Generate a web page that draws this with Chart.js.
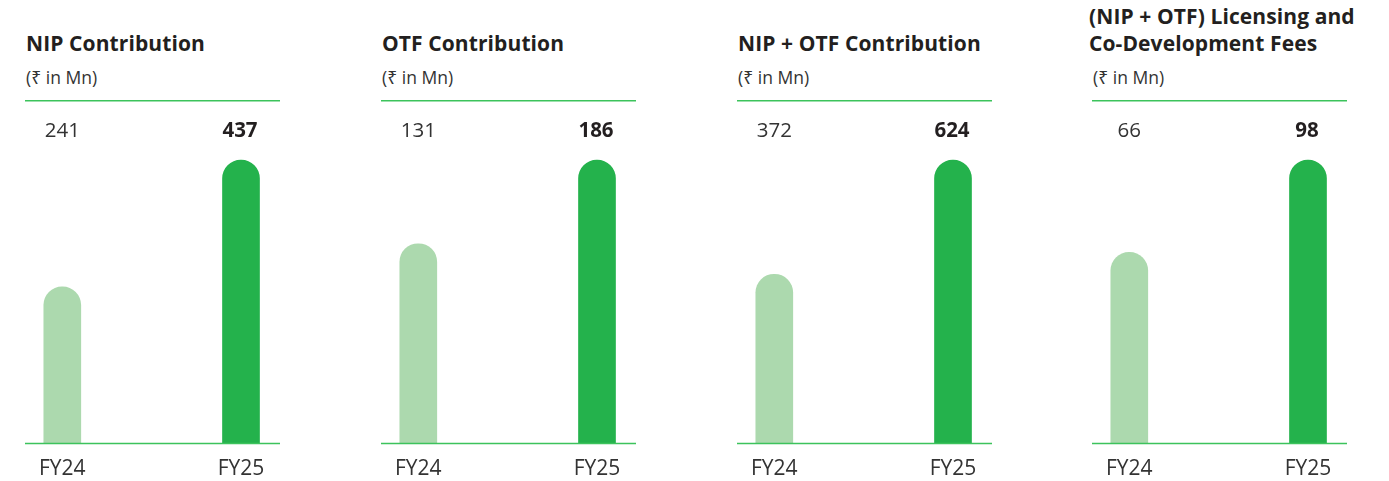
<!DOCTYPE html>
<html>
<head>
<meta charset="utf-8">
<script src="https://cdn.jsdelivr.net/npm/chart.js@4/dist/chart.umd.min.js"></script>
<style>
  html, body { margin:0; padding:0; background:#fff; }
  body { width:1389px; height:481px; position:relative; overflow:hidden; font-family: "Open Sans", "Noto Sans", sans-serif; color:#222; }
  .title { position:absolute; font-weight:700; font-size:21px; line-height:27px; color:#231f20; white-space:nowrap; letter-spacing:0.1px; }
  .sub { position:absolute; font-size:17.5px; color:#333; white-space:nowrap; font-family: "Open Sans", "Noto Sans", sans-serif; }
  .wrap { position:absolute; top:100px; width:255px; height:399px; }
</style>
</head>
<body>
<script>
const categories = ["FY24", "FY25"];
const panelTitles = [
  ["NIP Contribution"],
  ["OTF Contribution"],
  ["NIP + OTF Contribution"],
  ["(NIP + OTF) Licensing and", "Co-Development Fees"]
];
const subtitle = "(\u20B9 in Mn)";
const nipValues = [241, 437];
const otfValues = [131, 186];
const combinedValues = [372, 624];
const licensingValues = [66, 98];
const seriesList = [nipValues, otfValues, combinedValues, licensingValues];

const panelLefts = [25, 381, 737, 1092];
const lightGreen = "#acd9ae";
const darkGreen = "#24b24c";
const lineGreen = "#3cc35c";
const FONT = "'Open Sans', 'Noto Sans', sans-serif";

const linesPlugin = {
  id: "panelLines",
  afterDraw(chart) {
    const ctx = chart.ctx, a = chart.chartArea;
    ctx.save();
    ctx.strokeStyle = lineGreen;
    ctx.lineWidth = 1.5;
    ctx.beginPath();
    ctx.moveTo(0, a.top + 0.75); ctx.lineTo(chart.width, a.top + 0.75);
    ctx.moveTo(0, a.bottom + 0.75); ctx.lineTo(chart.width, a.bottom + 0.75);
    ctx.stroke();
    const data = chart.data.datasets[0].data;
    const xs = chart.scales.x;
    ctx.textAlign = "center";
    ctx.textBaseline = "middle";
    data.forEach((v, i) => {
      ctx.font = (i === 1 ? "700 " : "400 ") + "20.5px " + FONT;
      ctx.fillStyle = i === 1 ? "#231f20" : "#333";
      ctx.fillText(String(v), xs.getPixelForValue(i) - (i === 0 ? 0 : 1), a.top + 31);
    });
    ctx.restore();
  }
};

seriesList.forEach((vals, p) => {
  const left = panelLefts[p];
  const two = panelTitles[p].length === 2;
  const t = document.createElement("div");
  t.className = "title";
  t.style.left = (left + (two ? -3 : 1)) + "px";
  t.style.top = (two ? 3 : 30) + "px";
  t.innerHTML = panelTitles[p].join("<br>");
  document.body.appendChild(t);
  const s = document.createElement("div");
  s.className = "sub";
  s.style.left = (left + 1) + "px";
  s.style.top = "65px";
  s.textContent = subtitle;
  document.body.appendChild(s);
  const w = document.createElement("div");
  w.className = "wrap";
  w.style.left = left + "px";
  const c = document.createElement("canvas");
  w.appendChild(c);
  document.body.appendChild(w);

  new Chart(c, {
    type: "bar",
    data: {
      labels: categories,
      datasets: [{
        data: vals,
        backgroundColor: [lightGreen, darkGreen],
        barThickness: 37,
        borderRadius: { topLeft: 18.5, topRight: 18.5, bottomLeft: 0, bottomRight: 0 },
        borderSkipped: "bottom",
        clip: false
      }]
    },
    options: {
      responsive: true,
      maintainAspectRatio: false,
      animation: false,
      events: [],
      layout: { padding: { left: 37, right: 39, top: 0, bottom: 3 } },
      plugins: { legend: { display: false }, tooltip: { enabled: false }, title: { display: false } },
      scales: {
        x: {
          offset: false,
          grid: { display: false, drawTicks: false },
          border: { display: false },
          ticks: { color: "#333", padding: 14, font: { size: 21, family: FONT }, maxRotation: 0 }
        },
        y: {
          display: false,
          min: 0,
          max: vals[1] * 342 / 282
        }
      }
    },
    plugins: [linesPlugin]
  });
});
</script>
</body>
</html>
